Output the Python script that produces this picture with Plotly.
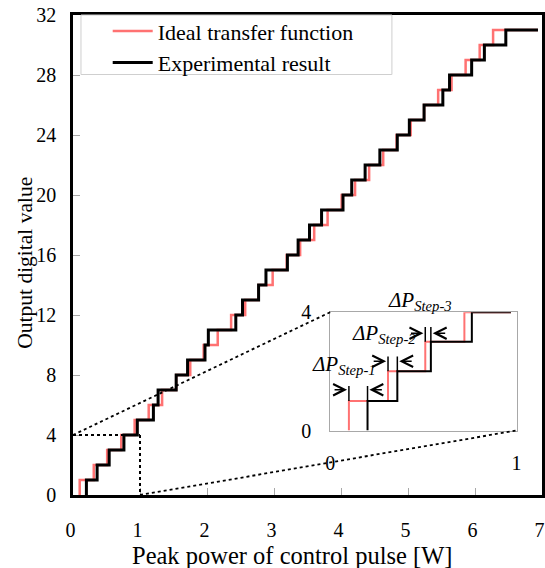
import plotly.graph_objects as go

# ---------------- data ----------------
LEVELS = [1, 2, 3, 4, 5, 6, 7, 8, 9, 10, 11, 12, 13, 14, 15, 16,
          17, 18, 19, 20, 21, 22, 23, 24, 25, 26, 27, 28, 29, 30, 31]
# x position [W] where the output steps up to the matching level
IDEAL_STEP_X = [0.10, 0.31, 0.51, 0.72, 0.92, 1.13, 1.33, 1.54, 1.75, 1.95,
                2.16, 2.36, 2.57, 2.77, 2.98, 3.19, 3.39, 3.60, 3.80, 4.01,
                4.21, 4.42, 4.63, 4.83, 5.04, 5.24, 5.45, 5.65, 5.86, 6.07, 6.27]
EXP_STEP_X = [0.20, 0.36, 0.54, 0.76, 0.96, 1.20, 1.27, 1.54, 1.71, 1.97,
              2.02, 2.43, 2.53, 2.77, 2.88, 3.20, 3.36, 3.53, 3.71, 4.03,
              4.16, 4.36, 4.58, 4.84, 5.02, 5.24, 5.52, 5.62, 5.95, 6.14, 6.46]
END_X = 6.94
INSET_END_X = 0.97
X_TICKS = [0, 1, 2, 3, 4, 5, 6, 7]
Y_TICKS = [0, 4, 8, 12, 16, 20, 24, 28, 32]
ZOOM_X = [0, 1]      # region shown enlarged in the inset
ZOOM_Y = [0, 4]
STEP_LABELS = ["Step-1", "Step-2", "Step-3"]

# ---------------- layout constants ----------------
W, H = 545, 568
XR = [0, 7]
YR = [0, 32]
INSET_X = [3.84, 6.62]   # inset box, in main-axis data units
INSET_Y = [4.30, 12.19]
RED = "#ff7272"
FONT = "Liberation Serif"


def frac(v, r):
    return (v - r[0]) / (r[1] - r[0])


def steps(step_x, levels, end_x, n=None):
    if n is not None:
        step_x, levels = step_x[:n], levels[:n]
    xs = [step_x[0]] + list(step_x) + [end_x]
    ys = [0] + list(levels) + [levels[-1]]
    return xs, ys


fig = go.Figure()

xi, yi = steps(IDEAL_STEP_X, LEVELS, END_X)
xe, ye = steps(EXP_STEP_X, LEVELS, END_X)
fig.add_trace(go.Scatter(x=xi, y=yi, mode="lines", line_shape="hv",
                         line=dict(color=RED, width=2.5),
                         name="Ideal transfer function"))
fig.add_trace(go.Scatter(x=xe, y=ye, mode="lines", line_shape="hv",
                         line=dict(color="black", width=3),
                         name="Experimental result"))

# inset traces (same data, first four steps)
xi2, yi2 = steps(IDEAL_STEP_X, LEVELS, INSET_END_X, n=4)
xe2, ye2 = steps(EXP_STEP_X, LEVELS, INSET_END_X, n=4)
fig.add_trace(go.Scatter(x=xi2, y=yi2, mode="lines", line_shape="hv",
                         line=dict(color=RED, width=2), showlegend=False,
                         xaxis="x2", yaxis="y2"))
fig.add_trace(go.Scatter(x=xe2, y=ye2, mode="lines", line_shape="hv",
                         line=dict(color="black", width=2), showlegend=False,
                         xaxis="x2", yaxis="y2"))

shapes = []
# dotted box around zoomed region
shapes.append(dict(type="line", xref="x", yref="y", x0=ZOOM_X[0], y0=ZOOM_Y[1],
                   x1=ZOOM_X[1], y1=ZOOM_Y[1], line=dict(color="black", width=2, dash="dot")))
shapes.append(dict(type="line", xref="x", yref="y", x0=ZOOM_X[1], y0=ZOOM_Y[1],
                   x1=ZOOM_X[1], y1=ZOOM_Y[0], line=dict(color="black", width=2, dash="dot")))
# connectors to inset
shapes.append(dict(type="line", xref="x", yref="y", x0=ZOOM_X[0], y0=ZOOM_Y[1],
                   x1=INSET_X[0], y1=INSET_Y[1], line=dict(color="black", width=1.8, dash="dot")))
shapes.append(dict(type="line", xref="x", yref="y", x0=ZOOM_X[1], y0=ZOOM_Y[0],
                   x1=INSET_X[1], y1=INSET_Y[0], line=dict(color="black", width=1.8, dash="dot")))
# legend box
shapes.append(dict(type="rect", xref="paper", yref="paper", x0=0.017, x1=0.680,
                   y0=0.876, y1=1.0, line=dict(color="#cfcfcf", width=1),
                   fillcolor="rgba(0,0,0,0)"))

annotations = []
arrow_dy = [0.38, 0.34, 0.29]
ext_h = 0.5
for k in range(3):
    xr_, xb_ = IDEAL_STEP_X[k], EXP_STEP_X[k]
    lvl = LEVELS[k]
    ya = lvl + arrow_dy[k]
    for xv in (xr_, xb_):
        shapes.append(dict(type="line", xref="x2", yref="y2", x0=xv, x1=xv,
                           y0=lvl, y1=lvl + ext_h, line=dict(color="black", width=1.5)))
    # left arrow pointing right, right arrow pointing left
    annotations.append(dict(xref="x2", yref="y2", axref="x2", ayref="y2",
                            x=xr_ - 0.01, y=ya, ax=xr_ - 0.085, ay=ya, text="",
                            showarrow=True, arrowhead=5, arrowsize=1.5,
                            arrowwidth=1.5, arrowcolor="black"))
    annotations.append(dict(xref="x2", yref="y2", axref="x2", ayref="y2",
                            x=xb_ + 0.01, y=ya, ax=xb_ + 0.085, ay=ya, text="",
                            showarrow=True, arrowhead=5, arrowsize=1.5,
                            arrowwidth=1.5, arrowcolor="black"))

# (x, y, yshift) of each ΔP label, in inset coordinates
label_pos = [(0.075, 2.23, 0), (0.287, 3.245, 0), (0.48, 4.0, 11)]
for (lx, ly, ys), lab in zip(label_pos, STEP_LABELS):
    annotations.append(dict(xref="x2", yref="y2", x=lx, y=ly, yshift=ys,
                            showarrow=False,
                            text="<i>ΔP<sub>%s</sub></i>" % lab,
                            font=dict(family=FONT, size=21, color="black"),
                            xanchor="center", yanchor="middle"))

# axis titles
annotations.append(dict(xref="paper", yref="paper", x=-0.1023, y=0.484,
                        text="Output digital value", textangle=-90,
                        showarrow=False, xanchor="center", yanchor="middle",
                        font=dict(family=FONT, size=21.5, color="black")))
annotations.append(dict(xref="paper", yref="paper", x=0.467, y=-0.127,
                        text="Peak power of control pulse [W]",
                        showarrow=False, xanchor="center", yanchor="middle",
                        font=dict(family=FONT, size=24.5, color="black")))

axis_common = dict(showgrid=False, zeroline=False, showline=True, mirror=True,
                   linecolor="black", linewidth=2.5, ticks="inside", ticklen=7,
                   tickwidth=1, tickcolor="#a8a8a8", automargin=False,
                   ticklabeloverflow="allow",
                   tickfont=dict(family=FONT, size=20, color="black"))

# x tick labels sit a little left of their ticks in the reference
x_ticktext = ["%d\u00a0" % v for v in X_TICKS]

fig.update_layout(
    width=W, height=H,
    margin=dict(l=73, r=3, t=15, b=73),
    paper_bgcolor="white", plot_bgcolor="white",
    font=dict(family=FONT, color="black"),
    xaxis=dict(range=XR, tickvals=X_TICKS, ticktext=x_ticktext,
               ticklabelstandoff=15, **axis_common),
    yaxis=dict(range=YR, tickvals=Y_TICKS, ticklabelstandoff=10,
               **axis_common),
    xaxis2=dict(domain=[frac(INSET_X[0], XR), frac(INSET_X[1], XR)], anchor="y2",
                range=ZOOM_X, tickvals=ZOOM_X, ticks="", showgrid=False,
                zeroline=False, showline=True, mirror=True, linecolor="#a8a8a8",
                linewidth=1, ticklabelstandoff=14, automargin=False,
                tickfont=dict(family=FONT, size=20, color="black")),
    yaxis2=dict(domain=[frac(INSET_Y[0], YR), frac(INSET_Y[1], YR)], anchor="x2",
                range=ZOOM_Y, tickvals=ZOOM_Y, ticks="", showgrid=False,
                zeroline=False, showline=True, mirror=True, linecolor="#a8a8a8",
                linewidth=1, ticklabelstandoff=14, layer="below traces",
                automargin=False,
                tickfont=dict(family=FONT, size=20, color="black")),
    legend=dict(x=0.074, y=1.01, xanchor="left", yanchor="top",
                bgcolor="rgba(0,0,0,0)", borderwidth=0, itemwidth=40,
                font=dict(family=FONT, size=22, color="black"),
                tracegroupgap=0),
    shapes=shapes,
    annotations=annotations,
)

# remove the browser's default 8px body margin so the figure fills the window
fig.write_html("out.html", config={"displayModeBar": False},
               post_script="document.body.style.margin='0';")
